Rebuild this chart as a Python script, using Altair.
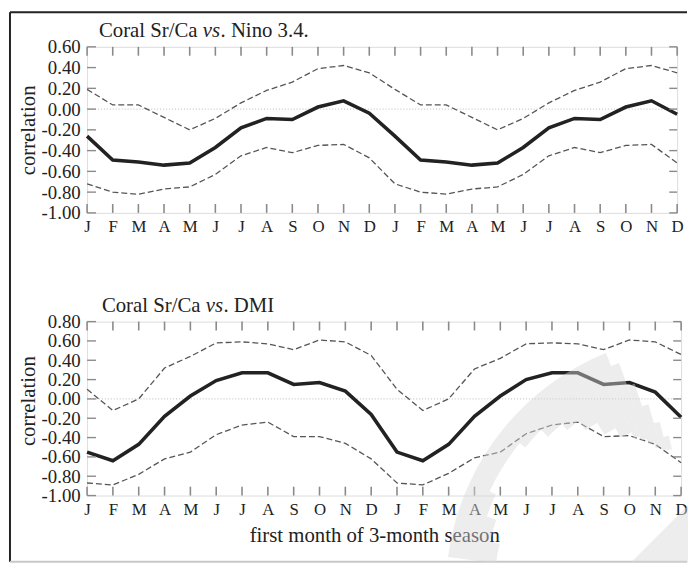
import math
import altair as alt
import pandas as pd

# ---------------- data ----------------
months = ["J", "F", "M", "A", "M", "J", "J", "A", "S", "O", "N", "D"] * 2

nino_r = [-0.26, -0.49, -0.51, -0.54, -0.52, -0.37, -0.18, -0.09, -0.10, 0.02, 0.08, -0.04,
          -0.26, -0.49, -0.51, -0.54, -0.52, -0.37, -0.18, -0.09, -0.10, 0.02, 0.08, -0.05]
nino_hi = [0.19, 0.04, 0.04, -0.08, -0.20, -0.09, 0.06, 0.18, 0.26, 0.39, 0.42, 0.35,
           0.19, 0.04, 0.04, -0.08, -0.20, -0.09, 0.06, 0.18, 0.26, 0.39, 0.42, 0.35]
nino_lo = [-0.72, -0.80, -0.82, -0.77, -0.75, -0.63, -0.45, -0.37, -0.42, -0.35, -0.34, -0.47,
           -0.72, -0.80, -0.82, -0.77, -0.75, -0.63, -0.45, -0.37, -0.42, -0.35, -0.34, -0.52]

dmi_r = [-0.55, -0.64, -0.47, -0.18, 0.03, 0.19, 0.27, 0.27, 0.15, 0.17, 0.08, -0.16,
         -0.55, -0.64, -0.47, -0.18, 0.03, 0.20, 0.27, 0.27, 0.15, 0.17, 0.07, -0.19]
dmi_hi = [0.10, -0.12, 0.00, 0.32, 0.44, 0.58, 0.59, 0.57, 0.51, 0.61, 0.59, 0.45,
          0.10, -0.12, 0.00, 0.31, 0.42, 0.57, 0.58, 0.57, 0.51, 0.61, 0.59, 0.46]
dmi_lo = [-0.87, -0.89, -0.78, -0.62, -0.55, -0.37, -0.27, -0.24, -0.39, -0.39, -0.46, -0.62,
          -0.87, -0.89, -0.77, -0.61, -0.55, -0.36, -0.27, -0.24, -0.39, -0.38, -0.47, -0.66]

ticks_nino = [-1.0, -0.8, -0.6, -0.4, -0.2, 0.0, 0.2, 0.4, 0.6]
ticks_dmi = [-1.0, -0.8, -0.6, -0.4, -0.2, 0.0, 0.2, 0.4, 0.6, 0.8]

# faint background watermark (pieces of a ring): angles in degrees, inner / outer radius
wm_t0 = [277.5, 283, 289, 295, 309, 315, 320, 324, 328, 332, 336, 338, 340, 342, 344, 346]
wm_t1 = [283, 289, 295, 309, 315, 320, 324, 328, 332, 336, 338, 340, 342, 344, 346, 348]
wm_rin = [210, 220, 230, 237, 230, 220, 212, 200, 186, 175, 168, 163, 157, 151, 147, 146]
wm_rout = [259, 259, 259, 259, 259, 259, 259, 259, 259, 259, 259, 245, 220, 196, 176, 160]

FONT = "Liberation Serif"
INK = "#222222"
TICK = "#8a8a8a"
WM = "#d6d6d6"

one = pd.DataFrame({"k": [0]})
zero_df = pd.DataFrame({"z": [0.0]})


def panel(r, hi, lo, ydom, yticks, w, h, title_rest, title_x, title_ty, extra=None):
    df = pd.DataFrame({"i": list(range(24)), "r": r, "hi": hi, "lo": lo})
    tick_df = pd.DataFrame({"v": yticks})
    label_expr = "[" + ",".join("'%s'" % m for m in months) + "][datum.value]"

    def X():
        return alt.X("i:Q", scale=alt.Scale(domain=[0, 23], nice=False, zero=False),
                     axis=alt.Axis(values=list(range(24)), labelExpr=label_expr,
                                   ticks=False, domain=False, grid=False,
                                   labelFont=FONT, labelFontSize=17, labelColor=INK,
                                   labelPadding=6, labelFlush=False, labelOverlap=False,
                                   title=None))

    def Y(field):
        return alt.Y(field + ":Q", scale=alt.Scale(domain=ydom, nice=False, zero=False),
                     axis=alt.Axis(values=yticks, format=".2f",
                                   labelExpr="replace(datum.label, '\u2212', '-')",
                                   ticks=False, domain=False, grid=False,
                                   labelFont=FONT, labelFontSize=19, labelColor=INK,
                                   labelPadding=7, labelFlush=False, labelOverlap=False,
                                   title="correlation", titleFont=FONT, titleFontSize=21,
                                   titleFontWeight="normal", titleColor=INK,
                                   titleX=-53, titleY=title_ty, titleBaseline="alphabetic"))

    base = alt.Chart(df)
    zero = alt.Chart(zero_df).mark_rule(color="#c4b4b4", strokeWidth=1, strokeDash=[1, 2]).encode(y=Y("z"))
    l_hi = base.mark_line(color="#555555", strokeWidth=1.3, strokeDash=[6, 3]).encode(x=X(), y=Y("hi"))
    l_lo = base.mark_line(color="#555555", strokeWidth=1.3, strokeDash=[6, 3]).encode(x=X(), y=Y("lo"))
    l_r = base.mark_line(color=INK, strokeWidth=3.6).encode(x=X(), y=Y("r"))
    t_top = base.mark_rule(color=TICK, strokeWidth=1.6).encode(x=X(), y=alt.value(0), y2=alt.value(9))
    t_bot = base.mark_rule(color=TICK, strokeWidth=1.6).encode(x=X(), y=alt.value(h - 9), y2=alt.value(h))
    t_right = alt.Chart(tick_df).mark_rule(color=TICK, strokeWidth=1.4).encode(
        y=Y("v"), x=alt.value(w - 8), x2=alt.value(w))
    t_left = alt.Chart(tick_df).mark_rule(color=TICK, strokeWidth=1.4).encode(
        y=Y("v"), x=alt.value(0), x2=alt.value(9))

    # title with italic "vs"
    tx = [title_x, title_x + 105, title_x + 123]
    ttl = [
        alt.Chart(one).mark_text(text="Coral Sr/Ca", font=FONT, fontSize=21, color=INK,
                                 align="left", baseline="alphabetic").encode(x=alt.value(tx[0]), y=alt.value(-10)),
        alt.Chart(one).mark_text(text="vs", font=FONT, fontSize=21, fontStyle="italic", color=INK,
                                 align="left", baseline="alphabetic").encode(x=alt.value(tx[1]), y=alt.value(-10)),
        alt.Chart(one).mark_text(text=title_rest, font=FONT, fontSize=21, color=INK,
                                 align="left", baseline="alphabetic").encode(x=alt.value(tx[2]), y=alt.value(-10)),
    ]
    layers = [zero, l_hi, l_lo, l_r, t_top, t_bot, t_right, t_left] + ttl + (extra or [])
    return alt.layer(*layers).properties(width=w, height=h)


W1, H1 = 597, 168
W2, H2 = 601, 176

# outer frame (drawn relative to top panel)
frame = [
    alt.Chart(one).mark_rule(color=INK, strokeWidth=2).encode(
        x=alt.value(-78), x2=alt.value(607), y=alt.value(-35)),
    alt.Chart(one).mark_rule(color=INK, strokeWidth=2).encode(
        x=alt.value(-78), y=alt.value(-35), y2=alt.value(521)),
    alt.Chart(one).mark_rule(color="#c8c8c8", strokeWidth=2).encode(
        x=alt.value(-78), x2=alt.value(607), y=alt.value(521)),
]

xtitle = alt.Chart(one).mark_text(text="first month of 3-month season", font=FONT, fontSize=21,
                                  color=INK, align="center", baseline="alphabetic").encode(
    x=alt.value(291), y=alt.value(223))

wm_df = pd.DataFrame({
    "t0": [math.radians(t) for t in wm_t0],
    "t1": [math.radians(t) for t in wm_t1],
    "rin": wm_rin,
    "rout": wm_rout,
})
watermark = alt.Chart(wm_df).mark_arc(color=WM, opacity=0.45, strokeWidth=0).encode(
    x=alt.value(622), y=alt.value(272),
    theta=alt.Theta("t0:Q", scale=None), theta2="t1:Q",
    radius=alt.Radius("rout:Q", scale=None), radius2="rin:Q")

corner = alt.Chart(one).mark_point(shape="M-1,1L1,-1L1,1Z", filled=True, size=3364,
                                   color=WM, opacity=0.45, strokeWidth=0).encode(
    x=alt.value(579), y=alt.value(215))

p1 = panel(nino_r, nino_hi, nino_lo, [-1.0, 0.6], ticks_nino, W1, H1,
           ". Nino 3.4.", 12, 84, extra=frame)
p2 = panel(dmi_r, dmi_hi, dmi_lo, [-1.0, 0.8], ticks_dmi, W2, H2,
           ". DMI", 15, 80, extra=[xtitle, watermark, corner])

chart = alt.vconcat(p1, p2, spacing=110, bounds="flush").properties(
    padding={"left": 0, "top": -1, "right": 0, "bottom": 0}
).configure_view(stroke="#555555", strokeWidth=1.5).configure(background="white")

chart.save("out.html", embed_options={"renderer": "svg", "actions": False})
